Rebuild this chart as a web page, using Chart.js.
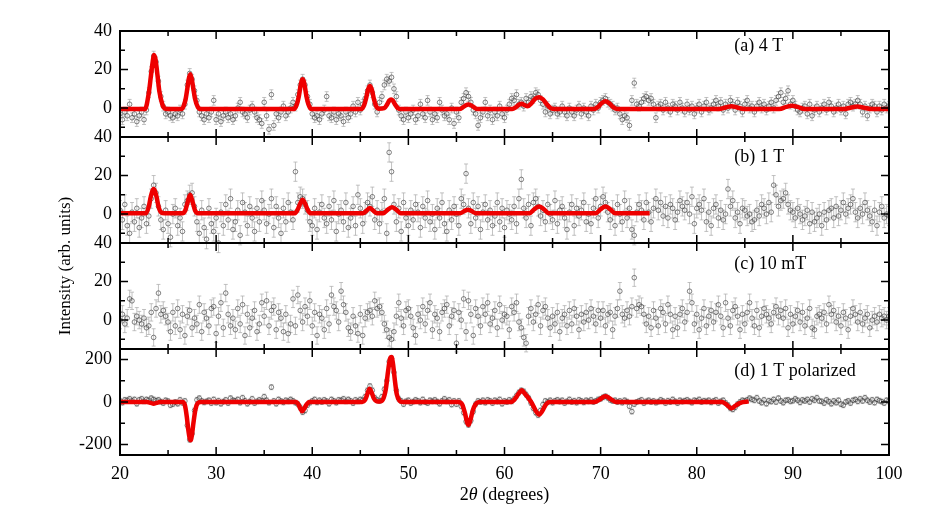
<!DOCTYPE html>
<html><head><meta charset="utf-8">
<script src="https://cdn.jsdelivr.net/npm/chart.js@4/dist/chart.umd.min.js"></script>
<style>html,body{margin:0;padding:0;background:#fff;overflow:hidden}</style>
</head><body>
<canvas id="c" width="926" height="529"></canvas>
<script>
// ---------------- data ----------------
const angleStart = 20, angleStep = 0.25;   // 2θ grid of the measured points
const xTickValues = [20, 30, 40, 50, 60, 70, 80, 90, 100];
const yTicksSmall = [0, 20, 40];
const yTicksPolarized = [-200, 0, 200];
const panelLabels = ['(a) 4 T', '(b) 1 T', '(c) 10 mT', '(d) 1 T polarized'];

const intensityA = [
-3,-6,-2,-4, 2,-5,-3,-7, -4,-2,-6,-1, 8,19,27,24, 14,6,1,-3, -2,-4,-5,-3, -4,-1,-3,2, 12,18,15,9,
4,-2,-4,-6, -3,-5,-2,4, -6,-3,-7,-4, -2,-5,-3,-6, -4,0,3,-2, -3,-5,-1,1, -2,-5,-6,-8, 3,-4,-11,7,
-9,-3,-5,-2, 1,-4,-2,0, 3,1,7,12, 15,12,6,2, -3,-5,-4,-6, -3,-1,6,-4, -5,-2,-6,-3, -4,-7,-2,-5,
-3,1,-2,3, -1,2,5,9, 12,8,2,-2, 3,6,12,15, 14,16,10,6, -1,-4,-6,-2, -5,-3,-1,-6, -4,2,-3,-5,
4,-2,-6,-3, -5,3,-1,-4, -3,-6,0,-8, -2,-5,3,5, 8,6,3,-1, -3,-9,-5,-2, 3,-4,-1,-6, -2,-4,1,-3,
-5,-1,2,5, 4,7,2,3, 1,5,3,6, 5,8,7,4, 2,-2,1,-3, -1,0,-3,-2, 1,-2,-4,0, -2,-4,-1,1,
-3,0,-2,-4, 1,-1,2,0, 3,4,5,3, 2,1,-1,0, -3,-6,-4,-5, -9,4,13,2, 1,3,5,6, 4,5,2,-5,
1,2,-1,3, 0,-2,2,1, -1,3,0,-2, 2,-1,1,-3, 0,2,-2,1, 3,-1,0,2, 4,1,3,-1, 2,0,4,2,
-1,3,1,-2, 2,4,0,1, -2,1,3,0, 2,-1,1,3, 0,4,6,8, 3,5,9,2, 4,1,-1,-2, 0,1,-3,2,
-4,-1,1,-2, 0,2,-1,3, 1,-2,0,2, -1,1,-3,2, 3,1,2,4, 2,-2,1,-4, 0,2,1,-2, 1,-1,2,0, 1];

const intensityB = [
2,-3,5,-6, -10,1,-4,3, -7,-2,4,-5, -1,8,15,11, 4,-3,-8,2, -5,-12,0,3, -6,-2,-9,5, 7,10,11,4,
-4,-10,2,-7, -13,3,-5,-9, -2,-15,1,-6, 5,-3,8,-8, -4,2,-11,6, 1,-6,4,-2, -9,3,-4,7, 2,-5,0,8,
-7,4,-2,-10, 3,-4,6,1, -3,22,6,9, 8,5,2,-4, -6,3,-8,1, 5,-2,-5,4, -3,7,-9,0, 2,-4,6,-7,
-2,4,-6,10, 3,-5,1,6, 4,9,-3,2, -5,1,8,-10, 32,22,5,-4, 3,-9,6,-2, -6,2,-3,5, 1,-7,4,-2,
7,-4,0,-8, 3,-2,6,-5, -9,2,-3,4, 0,-6,8,5, 21,3,-5,6, -2,4,-8,1, 5,-3,2,-6, -1,6,-4,3,
-7,2,0,-3, 4,-5,8,18, 3,-2,5,-6, 6,8,4,-1, 2,-4,5,0, -3,7,-5,2, 4,-2,-8,1, 5,-6,3,-1,
2,6,-4,0, -5,3,8,-2, 4,9,6,1, -3,2,-6,5, 0,-4,7,-2, 3,-8,-11,1, 5,2,-3,6, 1,-4,3,8,
2,6,-1,4, -2,5,3,-3, 1,7,4,2, 6,0,9,-5, 3,5,2,8, -4,1,-6,3, 5,-2,2,-3, 0,13,4,7,
-2,1,-5,3, 2,-1,0,-4, -3,2,-1,5, 3,0,6,1, 15,10,4,7, 8,11,5,2, 1,-2,3,0, -3,-1,2,-5,
1,-4,-2,0, -6,1,-3,2, 3,-2,4,-1, 2,6,0,3, 5,8,1,-2, 3,0,6,2, -1,-4,2,-6, 1,4,-2,0, -1];

const intensityC = [
0,3,-2,1, 11,10,-1,2, 0,-2,1,-4, -3,4,-9,6, 14,3,5,2, -1,-6,4,-3, 6,-5,3,-8, 2,5,-4,1,
-2,8,-6,4, 1,-3,6,7, -7,2,9,-4, 14,3,-3,1, -5,6,-2,8, -8,3,-4,1, 5,-6,-2,9, 2,10,-3,5,
7,-5,4,1, -6,3,-7,-2, 11,-3,13,5, -1,7,2,10, -3,4,-8,3, 1,-5,6,-2, 13,7,5,-1, 15,8,4,-4,
-6,2,-3,-7, 3,-8,1,4, 5,2,10,6, 7,4,-2,-5, -9,-10,-6,2, 9,1,-3,5, 6,2,-4,-8, 3,0,7,-2,
5,9,-5,3, 1,-6,4,6, 8,-3,2,5, -12,4,0,11, -6,10,3,-8, 6,2,-3,7, 3,9,-2,1, 5,-4,8,0,
3,2,-5,7, 4,9,-1,-4, -9,-12,2,6, -1,3,8,-3, 5,7,1,-4, 2,-2,4,-6, 1,3,-3,5, -2,6,2,-5,
3,-1,4,0, 6,2,-2,5, 1,5,-3,3, 4,-5,2,6, 15,3,1,5, 2,7,22,6, 8,7,3,-2, 2,-4,5,1,
-3,6,4,-2, 8,3,-5,2, -4,3,6,-1, 4,15,9,-2, 3,-5,1,6, -3,2,5,-1, 4,8,2,-4, 9,1,-3,5,
7,2,-5,3, -2,4,9,1, -3,5,-4,2, 6,3,1,-2, 4,7,2,5, 1,6,-4,3, -2,2,5,-1, 4,-3,1,6,
-4,-5,2,3, 1,4,-2,8, 3,5,-1,2, -3,4,1,-5, 2,6,3,-1, 4,-2,1,3, -4,0,2,-1, 3,1,2,0, 2];

const intensityD = [
5,-3,10,8, 15,5,12,-8, 10,15,3,12, 8,18,12,6, 10,2,-5,8, 4,-15,-10,0, -8,10,-4,5, -110,-178,-150,-40,
10,18,5,-2, 3,8,-5,12, -3,6,-8,2, 10,-5,18,8, 5,12,-3,20, 6,-8,2,15, -5,3,10,5, 25,8,-3,70,
5,-8,12,4, -2,8,3,12, 5,-3,-10,-25, -48,-40,-15,-3, 5,12,-2,8, 0,10,4,-8, 12,5,-3,10, 8,15,3,12,
5,-5,10,3, 12,8,25,55, 75,55,20,10, 5,25,60,100, 190,205,140,55, 15,5,-10,3, 8,-5,2,10, 5,-3,12,0,
-5,8,3,10, 2,-8,5,15, 3,10,-12,5, -10,5,-20,-50, -92,-108,-88,-45, -10,5,0,8, -3,10,5,-5, 8,2,12,-8,
5,0,10,3, 15,30,45,55, 50,35,20,-5, -30,-50,-62,-40, -12,5,0,8, -3,5,10,2, 8,-5,3,12, 0,6,-3,10,
5,-2,8,3, 10,0,5,12, 15,22,27,20, 10,5,8,0, 5,-3,8,2, -20,-45,-10,0, 5,10,-5,3, 8,0,5,-3,
2,10,4,-5, 6,0,12,3, -5,8,2,6, 10,3,-3,8, 5,12,0,6, 3,8,-2,5, 10,-5,3,8, -5,-15,-30,-35,
-25,-10,0,8, 5,10,18,12, 8,20,5,-3, 10,-8,6,2, 12,0,18,5, -3,8,10,3, 6,15,8,-2, 10,5,12,0,
15,8,20,5, 3,-5,10,2, -8,5,-3,8, -10,-15,0,5, -5,8,12,3, 15,5,20,8, 0,10,-3,12, 6,2,-5,8, 3];

// typical error-bar half heights of each panel
const errorA = 2.5, errorB = 5, errorC = 4.5, errorD = 12;

// fitted curves, [2θ, intensity]
const fitA = [[20,-0.5],[22.6,-0.5],[23.0,8],[23.2,16],[23.4,24],[23.55,27.5],[23.7,25],[23.9,17],[24.1,8.5],[24.4,2],[24.7,-0.3],
[26.4,-0.5],[26.8,4],[27.0,10],[27.15,15],[27.3,17.5],[27.45,15.5],[27.6,11],[27.8,5],[28.1,0.5],[28.4,-0.5],
[38.1,-0.5],[38.4,2],[38.6,6],[38.8,12],[39.0,15],[39.2,12],[39.4,6],[39.6,2],[39.9,-0.5],
[45.1,-0.5],[45.4,1.5],[45.6,5],[45.8,9.5],[46.0,11.5],[46.2,9.5],[46.4,5],[46.6,1.5],[46.9,-0.3],
[47.5,0],[47.8,2],[48.0,3.8],[48.2,4.5],[48.4,3.8],[48.6,2],[48.9,0],[49.3,-0.5],
[55.3,-0.5],[55.7,0.5],[56.0,1.5],[56.25,1.8],[56.5,1.5],[56.8,0.5],[57.2,-0.5],
[60.8,-0.5],[61.2,0.5],[61.5,1.7],[61.8,2.2],[62.1,1.5],[62.4,1.0],[62.8,2.5],[63.2,4.8],[63.6,5.6],[64.0,4.5],[64.4,2],[64.8,0],[65.3,-0.5],
[69.3,-0.5],[69.7,0.5],[70.1,2.5],[70.5,3.6],[70.9,2.5],[71.3,0.5],[71.8,-0.5],
[82.3,-0.5],[83.0,0.3],[83.6,1.0],[84.2,0.3],[84.9,-0.5],
[88.6,-0.5],[89.3,0.6],[89.9,1.2],[90.5,0.6],[91.2,-0.5],
[95.3,-0.5],[96.0,0.2],[96.7,0.8],[97.4,0.2],[98.2,-0.5],[100,-0.5]];

const fitB = [[20,0.5],[22.7,0.5],[23.0,4],[23.2,9],[23.5,13],[23.8,9],[24.0,4],[24.3,0.8],[24.6,0.5],
[26.5,0.5],[26.8,2],[27.0,5.5],[27.3,10],[27.6,5.5],[27.8,2],[28.1,0.5],
[38.2,0.5],[38.5,2.5],[38.75,5.5],[39.0,7.5],[39.25,5.5],[39.5,2.5],[39.8,0.5],
[45.3,0.5],[45.7,2],[46.0,3.2],[46.3,2],[46.7,0.5],
[47.4,0.5],[47.9,2.5],[48.3,3.5],[48.7,2.5],[49.2,0.5],
[55.4,0.5],[55.9,1.8],[56.2,2.3],[56.5,1.8],[57.0,0.5],
[62.6,0.5],[63.1,2.5],[63.6,4],[64.1,2.5],[64.6,0.5],
[69.5,0.5],[70.0,2.5],[70.5,4],[71.0,2.5],[71.5,0.5],[75.1,0.5]];

const fitD = [[20,0],[22.8,0],[23.2,-4],[23.5,-8],[23.8,-4],[24.2,0],
[26.5,0],[26.75,-15],[26.95,-70],[27.1,-130],[27.25,-172],[27.35,-180],[27.5,-150],[27.65,-95],[27.85,-35],[28.1,-5],[28.4,0],
[38.3,0],[38.55,-10],[38.75,-30],[38.95,-44],[39.15,-32],[39.4,-12],[39.7,0],
[45.2,0],[45.5,10],[45.75,40],[45.95,63],[46.15,48],[46.4,18],[46.7,3],[47.0,2],
[47.35,12],[47.65,60],[47.9,150],[48.1,205],[48.25,212],[48.4,180],[48.6,100],[48.8,35],[49.1,5],[49.4,0],
[55.2,0],[55.6,-12],[55.9,-55],[56.1,-95],[56.25,-108],[56.45,-85],[56.7,-40],[57.0,-10],[57.4,0],
[60.7,0],[61.1,15],[61.5,42],[61.8,55],[62.1,40],[62.5,18],[62.9,-10],[63.3,-45],[63.6,-60],[63.9,-45],[64.3,-12],[64.7,0],
[69.4,0],[69.9,12],[70.5,27],[71.1,12],[71.6,0],
[82.6,0],[83.1,-12],[83.6,-30],[84.1,-15],[84.6,-3],[85.4,3]];

// ---------------- chart ----------------
const FONT = '"Liberation Serif", "Times New Roman", serif';
const panelAxes = ['yA', 'yB', 'yC', 'yD'];
const panelSeries = [intensityA, intensityB, intensityC, intensityD];
const panelErrors = [errorA, errorB, errorC, errorD];
const panelFits = [fitA, fitB, null, fitD];

const datasets = [];
panelAxes.forEach((ax, k) => {
  datasets.push({
    type: 'scatter',
    data: panelSeries[k].map((v, i) => ({x: angleStart + i * angleStep, y: v})),
    yAxisID: ax, xAxisID: 'x',
    errorBar: panelErrors[k],
    pointStyle: 'circle', pointRadius: 2.3, pointHoverRadius: 2.3,
    pointBorderWidth: 0.75, pointBorderColor: 'rgba(60,60,60,0.85)', pointBackgroundColor: 'rgba(255,255,255,0)',
    order: 2
  });
  if (panelFits[k]) {
    datasets.push({
      type: 'line',
      data: panelFits[k].map(p => ({x: p[0], y: p[1]})),
      yAxisID: ax, xAxisID: 'x',
      borderColor: 'rgb(238,0,0)', borderWidth: 4.5, pointRadius: 0,
      cubicInterpolationMode: 'monotone', fill: false,
      order: 1
    });
  }
});

function yAxis(min, max, ticks, weight) {
  return {
    type: 'linear', position: 'left', stack: 'panels', stackWeight: 1, weight: weight,
    min: min, max: max, offset: false,
    grid: {display: false, drawTicks: false}, border: {display: false},
    afterBuildTicks: s => { s.ticks = ticks.map(v => ({value: v})); },
    afterFit: s => { s.width = 50; },
    ticks: {padding: 8, color: '#000', font: {family: FONT, size: 18}}
  };
}

const errorBarPlugin = {
  id: 'errorBars',
  beforeDatasetsDraw(chart) {
    const ctx = chart.ctx, ca = chart.chartArea;
    ctx.save();
    ctx.beginPath(); ctx.rect(ca.left, ca.top, ca.right - ca.left, ca.bottom - ca.top); ctx.clip();
    ctx.strokeStyle = 'rgba(170,170,170,0.9)'; ctx.lineWidth = 0.8;
    chart.data.datasets.forEach(ds => {
      if (ds.errorBar == null) return;
      const xs = chart.scales.x, ys = chart.scales[ds.yAxisID];
      ctx.beginPath();
      ds.data.forEach(p => {
        const px = xs.getPixelForValue(p.x);
        const y1 = ys.getPixelForValue(p.y + ds.errorBar), y2 = ys.getPixelForValue(p.y - ds.errorBar);
        ctx.moveTo(px, y1); ctx.lineTo(px, y2);
        ctx.moveTo(px - 2, y1); ctx.lineTo(px + 2, y1);
        ctx.moveTo(px - 2, y2); ctx.lineTo(px + 2, y2);
      });
      ctx.stroke();
    });
    ctx.restore();
  }
};

const framePlugin = {
  id: 'frame',
  afterDatasetsDraw(chart) {
    const ctx = chart.ctx, ca = chart.chartArea, xs = chart.scales.x;
    ctx.save();
    ctx.strokeStyle = '#000';
    panelAxes.forEach((id, k) => {
      const s = chart.scales[id];
      const top = s.top, bot = s.bottom;
      // x ticks (inward, top and bottom)
      ctx.lineWidth = 1.5;
      ctx.beginPath();
      for (let v = xTickValues[0]; v <= xTickValues[xTickValues.length - 1]; v += 5) {
        const px = xs.getPixelForValue(v);
        const len = xTickValues.includes(v) ? 8 : 5;
        ctx.moveTo(px, top); ctx.lineTo(px, top + len);
        ctx.moveTo(px, bot); ctx.lineTo(px, bot - len);
      }
      // y ticks (inward, left and right)
      const labelled = k === 3 ? yTicksPolarized : yTicksSmall;
      const step = (labelled[1] - labelled[0]) / 2;
      for (let v = Math.ceil(s.min / step) * step; v <= s.max; v += step) {
        const py = s.getPixelForValue(v);
        const len = labelled.includes(v) ? 8 : 5;
        ctx.moveTo(ca.left, py); ctx.lineTo(ca.left + len, py);
        ctx.moveTo(ca.right, py); ctx.lineTo(ca.right - len, py);
      }
      ctx.stroke();
      ctx.lineWidth = 2;
      ctx.strokeRect(ca.left, top, ca.right - ca.left, bot - top);
    });
    ctx.restore();
  },
  afterDraw(chart) {
    const ctx = chart.ctx, ca = chart.chartArea, xs = chart.scales.x;
    ctx.save();
    ctx.fillStyle = '#000';
    ctx.font = '18px ' + FONT;
    ctx.textBaseline = 'middle';
    ctx.textAlign = 'left';
    const labelY = [32, 29.5, 29, 146];
    panelAxes.forEach((id, k) => {
      const s = chart.scales[id];
      ctx.fillText(panelLabels[k], xs.getPixelForValue(83.9), s.getPixelForValue(labelY[k]));
    });
    // y title
    ctx.save();
    ctx.translate(66, (ca.top + ca.bottom) / 2 + 23);
    ctx.rotate(-Math.PI / 2);
    ctx.textAlign = 'center';
    ctx.font = '17px ' + FONT;
    ctx.fillText('Intensity (arb. units)', 0, 0);
    ctx.restore();
    // x title: 2θ (degrees) with italic theta
    const parts = [['2', '18px '], ['θ', 'italic 18px '], [' (degrees)', '18px ']];
    let total = 0;
    parts.forEach(p => { ctx.font = p[1] + FONT; total += ctx.measureText(p[0]).width; });
    let x = (ca.left + ca.right) / 2 - total / 2;
    ctx.textAlign = 'left';
    parts.forEach(p => { ctx.font = p[1] + FONT; ctx.fillText(p[0], x, 495); x += ctx.measureText(p[0]).width; });
    ctx.restore();
  }
};

new Chart(document.getElementById('c'), {
  data: {datasets: datasets},
  options: {
    responsive: false, animation: false, devicePixelRatio: 1,
    layout: {autoPadding: false, padding: {left: 70, right: 37, top: 31, bottom: 34}},
    plugins: {legend: {display: false}, tooltip: {enabled: false}, title: {display: false}},
    events: [],
    scales: {
      x: {
        type: 'linear', position: 'bottom', min: 20, max: 100,
        grid: {display: false, drawTicks: false}, border: {display: false},
        afterBuildTicks: s => { s.ticks = xTickValues.map(v => ({value: v})); },
        afterFit: s => { s.height = 40; },
        ticks: {padding: 8, color: '#000', font: {family: FONT, size: 18}, maxRotation: 0}
      },
      yA: yAxis(-15, 40, yTicksSmall, 4),
      yB: yAxis(-15, 40, yTicksSmall, 3),
      yC: yAxis(-15, 40, yTicksSmall, 2),
      yD: yAxis(-250, 250, yTicksPolarized, 1)
    }
  },
  plugins: [errorBarPlugin, framePlugin]
});
</script>
</body></html>
